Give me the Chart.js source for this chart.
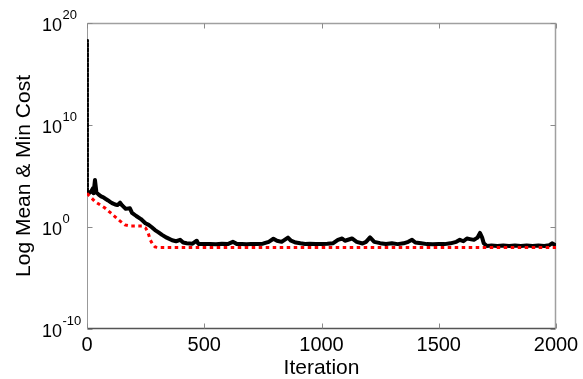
<!DOCTYPE html>
<html><head><meta charset="utf-8">
<script src="https://cdn.jsdelivr.net/npm/chart.js@4.4.1/dist/chart.umd.min.js"></script>
<style>html,body{margin:0;padding:0;background:#fff;}#wrap{width:583px;height:379px;position:relative;}</style>
</head><body><div id="wrap"><canvas id="c" width="583" height="379"></canvas></div>
<script>
// ---- data ----
const meanIter = [
  0, 3, 10, 18, 25, 28, 34, 40, 50, 60,
  70, 80, 90, 100, 107, 120, 130, 141, 150, 165,
  183, 192, 210, 230, 249, 263, 275, 290, 305, 320,
  340, 363, 380, 397, 410, 425, 450, 468, 475, 500,
  525, 550, 575, 600, 622, 640, 660, 680, 700, 725,
  750, 775, 795, 810, 830, 857, 870, 890, 910, 930,
  950, 975, 1000, 1025, 1050, 1070, 1088, 1100, 1130, 1150,
  1175, 1190, 1207, 1225, 1250, 1275, 1300, 1325, 1350, 1370,
  1386, 1400, 1425, 1450, 1475, 1500, 1525, 1550, 1575, 1590,
  1605, 1620, 1633, 1650, 1665, 1676, 1685, 1692, 1705, 1725,
  1750, 1775, 1800, 1825, 1850, 1875, 1900, 1925, 1950, 1970,
  1983, 2000
];
const meanCost = [
  2e18, 3e3, 2.2e3, 3e3, 6e3, 2e3, 4e4, 2.5e3, 1.5e3, 1e3,
  8e2, 5.6e2, 4e2, 2.8e2, 2.2e2, 1.6e2, 1.4e2, 2.4e2, 1.3e2, 60,
  68, 24, 12, 6, 2.3, 1.6, 1.0, 0.5, 0.3, 0.17,
  0.09, 0.05, 0.04, 0.055, 0.03, 0.026, 0.023, 0.045, 0.022, 0.021,
  0.022, 0.02, 0.023, 0.021, 0.035, 0.021, 0.022, 0.02, 0.022, 0.021,
  0.023, 0.035, 0.07, 0.045, 0.035, 0.09, 0.045, 0.03, 0.025, 0.022,
  0.023, 0.021, 0.021, 0.023, 0.026, 0.055, 0.075, 0.045, 0.075, 0.035,
  0.024, 0.035, 0.095, 0.035, 0.026, 0.022, 0.025, 0.021, 0.025, 0.035,
  0.055, 0.03, 0.025, 0.021, 0.02, 0.022, 0.021, 0.025, 0.035, 0.055,
  0.04, 0.075, 0.065, 0.055, 0.09, 0.26, 0.09, 0.025, 0.014, 0.015,
  0.014, 0.015, 0.014, 0.015, 0.014, 0.015, 0.014, 0.015, 0.014, 0.016,
  0.025, 0.015
];
const minIter = [0, 35, 77, 100, 120, 140, 162, 183, 235, 250, 260, 270, 280, 290, 300, 500, 1000, 1500, 2000];
const minCost = [2e3, 3e2, 72, 25, 10, 4, 1.6, 1.25, 1.25, 0.8, 0.3, 0.054, 0.02, 0.011, 0.01, 0.01, 0.01, 0.01, 0.01];
const xTicks = [0, 500, 1000, 1500, 2000];
const yTickExp = [-10, 0, 10, 20];
const xLabel = 'Iteration';
const yLabel = 'Log Mean & Min Cost';

const FONT = '"Liberation Sans", Arial, sans-serif';

const toPts = (xs, ys) => xs.map((v, i) => ({x: v, y: ys[i]}));

const matlabAxes = {
  id: 'matlabAxes',
  beforeDatasetsDraw(chart) {
    const {ctx, chartArea: a, scales: {x, y}} = chart;
    const L = Math.round(a.left) + 0.5, R = Math.round(a.right) - 0.5;
    const T = Math.round(a.top) + 0.5, B = Math.round(a.bottom) - 0.5;
    ctx.save();
    ctx.lineWidth = 1.5;
    ctx.strokeStyle = '#a0a0a0';
    ctx.beginPath(); ctx.moveTo(L, T); ctx.lineTo(R, T); ctx.lineTo(R, B); ctx.stroke();
    ctx.strokeStyle = '#555';
    ctx.beginPath(); ctx.moveTo(L, B); ctx.lineTo(R, B); ctx.stroke();
    ctx.lineWidth = 1;
    ctx.strokeStyle = '#999';
    ctx.beginPath(); ctx.moveTo(L, T); ctx.lineTo(L, B); ctx.stroke();
    ctx.strokeStyle = '#8a8a8a';
    const seg = (x1, y1, x2, y2) => { ctx.beginPath(); ctx.moveTo(x1, y1); ctx.lineTo(x2, y2); ctx.stroke(); };
    xTicks.forEach(v => {
      const px = Math.round(x.getPixelForValue(v)) + 0.5;
      seg(px, B, px, B - 5); seg(px, T, px, T + 5);
    });
    yTickExp.forEach(e => {
      const py = Math.round(y.getPixelForValue(Math.pow(10, e))) + 0.5;
      seg(L, py, L + 5, py); seg(R, py, R - 5, py);
    });
    ctx.restore();
  },
  afterDraw(chart) {
    const {ctx, scales: {y}} = chart;
    ctx.save();
    ctx.fillStyle = '#000';
    ctx.textAlign = 'left';
    ctx.textBaseline = 'alphabetic';
    yTickExp.forEach(e => {
      const py = y.getPixelForValue(Math.pow(10, e));
      ctx.font = '18px ' + FONT;
      ctx.fillText('10', 42, py + 7.5);
      const w = ctx.measureText('10').width;
      ctx.font = '13px ' + FONT;
      ctx.fillText(String(e), 42 + w + 0.5, py - 4.5);
    });
    ctx.restore();
  }
};

new Chart(document.getElementById('c'), {
  type: 'line',
  data: {
    datasets: [
      {
        label: 'Min cost',
        data: toPts(minIter, minCost),
        borderColor: '#ff0000',
        borderWidth: 3,
        borderDash: [3.5, 3.5],
        borderCapStyle: 'butt',
        pointRadius: 0,
        tension: 0,
        fill: false,
        order: 0
      },
      {
        label: 'Mean cost',
        data: toPts(meanIter, meanCost),
        borderColor: '#000000',
        borderWidth: 4,
        borderJoinStyle: 'round',
        pointRadius: 0,
        tension: 0,
        fill: false,
        order: 1,
        segment: {
          borderDash: c => c.p0DataIndex === 0 ? [2.5, 2.5] : [],
          borderWidth: c => c.p0DataIndex === 0 ? 2.5 : 4
        }
      }
    ]
  },
  options: {
    responsive: false,
    animation: false,
    devicePixelRatio: 1,
    layout: {padding: {left: 0, right: 27, top: 23, bottom: 0}},
    plugins: {legend: {display: false}, tooltip: {enabled: false}},
    scales: {
      x: {
        type: 'linear',
        min: 0, max: 2000,
        afterBuildTicks: s => { s.ticks = xTicks.map(v => ({value: v})); },
        afterFit: s => { s.height = 50; },
        grid: {display: false, drawTicks: false},
        border: {display: false},
        ticks: {color: '#000', font: {family: FONT, size: 20, lineHeight: 1.2}, padding: 4, maxRotation: 0, autoSkip: false, callback: v => String(v)},
        title: {display: true, text: xLabel, color: '#000', font: {family: FONT, size: 21, lineHeight: 1}, padding: {top: 0, bottom: 0}}
      },
      y: {
        type: 'logarithmic',
        min: 1e-10, max: 1e20,
        afterBuildTicks: s => { s.ticks = yTickExp.map(e => ({value: Math.pow(10, e)})); },
        afterFit: s => { s.width = 87; },
        grid: {display: false, drawTicks: false},
        border: {display: false},
        ticks: {display: false},
        title: {display: true, text: yLabel, color: '#000', font: {family: FONT, size: 21, lineHeight: 1}, padding: {top: 14, bottom: 0}}
      }
    }
  },
  plugins: [matlabAxes]
});
</script>
</body></html>
